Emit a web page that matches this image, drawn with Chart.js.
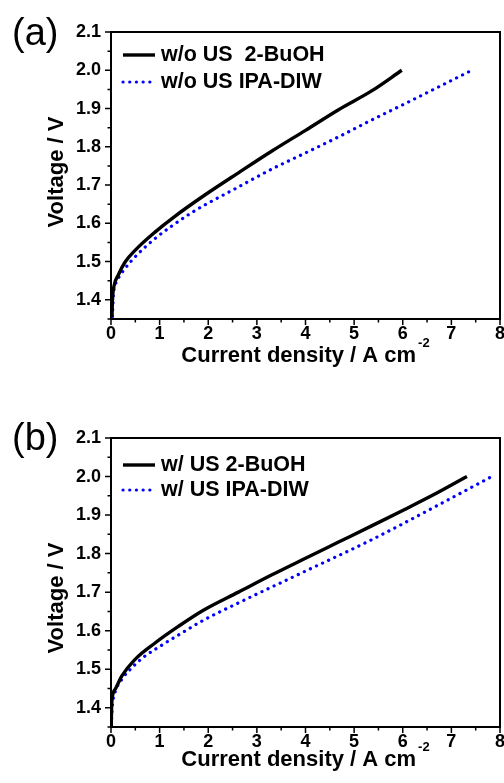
<!DOCTYPE html>
<html>
<head>
<meta charset="utf-8">
<script src="https://cdn.jsdelivr.net/npm/chart.js@4.4.1/dist/chart.umd.min.js"></script>
<style>
  html, body { margin: 0; padding: 0; background: #fff; }
  canvas { display: block; position: absolute; left: 0; }
  #chart-a { top: 0; }
  #chart-b { top: 392px; }
</style>
</head>
<body>
<canvas id="chart-a" width="504" height="392"></canvas>
<canvas id="chart-b" width="504" height="391"></canvas>
<script>
// tick values
const xTickValues = [0, 1, 2, 3, 4, 5, 6, 7, 8];
const xMinorTicks = [0.5, 1.5, 2.5, 3.5, 4.5, 5.5, 6.5, 7.5];
const yTickValues = [1.4, 1.5, 1.6, 1.7, 1.8, 1.9, 2.0, 2.1];
const yMinorTicks = [1.35, 1.45, 1.55, 1.65, 1.75, 1.85, 1.95, 2.05];

// (a) w/o US
const labelsA = ['w/o US  2-BuOH', 'w/o US IPA-DIW'];
const currentA_BuOH = [0.02, 0.03, 0.06, 0.15, 0.29, 0.5, 0.905, 1.3, 1.93, 2.62, 3.31, 4.0, 4.68, 5.36, 5.98];
const voltageA_BuOH = [1.355, 1.40, 1.435, 1.465, 1.499, 1.53, 1.577, 1.617, 1.674, 1.732, 1.789, 1.843, 1.897, 1.946, 2.0];
const currentA_IPA = [0.03, 0.05, 0.12, 0.29, 0.53, 0.905, 1.25, 1.66, 1.93, 2.62, 3.31, 4.0, 4.68, 5.36, 6.05, 6.73, 7.42];
const voltageA_IPA = [1.357, 1.413, 1.448, 1.482, 1.517, 1.56, 1.593, 1.628, 1.648, 1.695, 1.742, 1.784, 1.826, 1.870, 1.913, 1.956, 2.0];

// (b) w/ US
const labelsB = ['w/ US 2-BuOH', 'w/ US IPA-DIW'];
const currentB_BuOH = [0.005, 0.015, 0.08, 0.22, 0.49, 0.905, 1.385, 1.90, 2.62, 3.31, 4.0, 4.68, 5.36, 6.05, 6.7, 7.32];
const voltageB_BuOH = [1.352, 1.412, 1.447, 1.482, 1.525, 1.568, 1.611, 1.653, 1.70, 1.745, 1.788, 1.830, 1.872, 1.915, 1.957, 2.0];
const currentB_IPA = [0.005, 0.03, 0.08, 0.22, 0.43, 0.70, 1.04, 1.455, 1.90, 2.62, 3.99, 5.36, 6.73, 7.83];
const voltageB_IPA = [1.355, 1.407, 1.439, 1.473, 1.504, 1.534, 1.562, 1.594, 1.627, 1.672, 1.754, 1.836, 1.926, 2.0];

const FONT = '"Liberation Sans", Arial, sans-serif';
Chart.defaults.font.family = FONT;
Chart.defaults.color = '#000';

const toPoints = (xs, ys) => xs.map((x, i) => ({ x, y: ys[i] }));

// frame, ticks, titles, legend and panel letter
const framePlugin = {
  id: 'frame',
  afterDraw(chart, args, o) {
    const { ctx, chartArea: a, scales: { x, y } } = chart;
    ctx.save();
    ctx.strokeStyle = '#000';
    ctx.lineWidth = 2;
    ctx.strokeRect(a.left, a.top, a.right - a.left, a.bottom - a.top);

    ctx.lineWidth = 1.5;
    ctx.beginPath();
    const xt = (v, len) => { const p = x.getPixelForValue(v); ctx.moveTo(p, a.bottom); ctx.lineTo(p, a.bottom + len); };
    const yt = (v, len) => { const p = y.getPixelForValue(v); ctx.moveTo(a.left, p); ctx.lineTo(a.left - len, p); };
    xTickValues.forEach(v => xt(v, 6));
    xMinorTicks.forEach(v => xt(v, 3.5));
    yTickValues.forEach(v => yt(v, 6));
    yMinorTicks.forEach(v => yt(v, 3.5));
    ctx.stroke();

    ctx.fillStyle = '#000';
    ctx.textBaseline = 'alphabetic';

    // x title with superscript
    const main = 'Current density / A cm';
    const sup = '-2';
    ctx.font = 'bold 22px ' + FONT;
    const w1 = ctx.measureText(main).width;
    ctx.font = 'bold 13px ' + FONT;
    const w2 = ctx.measureText(sup).width;
    const sx = (a.left + a.right) / 2 - (w1 + 2 + w2) / 2;
    ctx.textAlign = 'left';
    ctx.font = 'bold 22px ' + FONT;
    ctx.fillText(main, sx, o.xTitleY);
    ctx.font = 'bold 13px ' + FONT;
    ctx.fillText(sup, sx + w1 + 2, o.xTitleY - 15);

    // y title
    ctx.save();
    ctx.translate(o.yTitleX, o.yTitleY);
    ctx.rotate(-Math.PI / 2);
    ctx.textAlign = 'center';
    ctx.font = 'bold 22px ' + FONT;
    ctx.fillText('Voltage / V', 0, 0);
    ctx.restore();

    // panel letter
    ctx.textAlign = 'left';
    ctx.font = '38px ' + FONT;
    ctx.fillText(o.panel, 12, o.panelY);

    // legend
    chart.data.datasets.forEach((ds, i) => {
      const ly = o.legendY[i];
      ctx.save();
      ctx.strokeStyle = ds.borderColor;
      ctx.lineWidth = ds.borderWidth;
      ctx.lineCap = ds.borderCapStyle || 'butt';
      ctx.setLineDash(ds.borderDash || []);
      ctx.beginPath();
      ctx.moveTo(123, ly);
      ctx.lineTo(155, ly);
      ctx.stroke();
      ctx.restore();
      ctx.font = 'bold 21.5px ' + FONT;
      ctx.textBaseline = 'middle';
      ctx.fillText(ds.label, 161, ly);
    });
    ctx.restore();
  }
};

function makeChart(id, labels, series, layout) {
  const canvas = document.getElementById(id);
  return new Chart(canvas, {
    type: 'line',
    data: {
      datasets: [
        {
          label: labels[0],
          data: series[0],
          borderColor: '#000000',
          borderWidth: 3.4,
          pointRadius: 0,
          cubicInterpolationMode: 'monotone'
        },
        {
          label: labels[1],
          data: series[1],
          borderColor: '#0000ff',
          borderWidth: 3.2,
          borderDash: [0.1, 6.6],
          borderCapStyle: 'round',
          pointRadius: 0,
          cubicInterpolationMode: 'monotone'
        }
      ]
    },
    options: {
      responsive: false,
      animation: false,
      devicePixelRatio: 1,
      layout: { padding: { top: layout.top, right: 4, left: 0, bottom: 0 } },
      plugins: {
        legend: { display: false },
        tooltip: { enabled: false },
        frame: layout
      },
      scales: {
        x: {
          type: 'linear',
          min: 0,
          max: 8,
          afterBuildTicks: s => { s.ticks = xTickValues.map(v => ({ value: v })); },
          afterFit: s => {
            s.height = canvas.height - layout.bottom;
            s.paddingLeft = 0;
            s.paddingRight = 0;
          },
          grid: { display: false, drawTicks: false },
          border: { display: false },
          ticks: {
            autoSkip: false,
            maxRotation: 0,
            padding: 4,
            font: { size: 18, weight: 'bold' },
            callback: v => String(Math.round(v))
          }
        },
        y: {
          type: 'linear',
          min: 1.35,
          max: 2.1,
          afterBuildTicks: s => { s.ticks = yTickValues.map(v => ({ value: v })); },
          afterFit: s => {
            s.width = 111;
            s.paddingTop = 0;
            s.paddingBottom = 0;
          },
          grid: { display: false, drawTicks: false },
          border: { display: false },
          ticks: {
            padding: 10,
            font: { size: 18, weight: 'bold' },
            callback: v => v.toFixed(1)
          }
        }
      }
    },
    plugins: [framePlugin]
  });
}

makeChart('chart-a', labelsA,
  [toPoints(currentA_BuOH, voltageA_BuOH), toPoints(currentA_IPA, voltageA_IPA)],
  { top: 32, bottom: 319, panel: '(a)', panelY: 45, legendY: [55, 82], xTitleY: 362, yTitleX: 63, yTitleY: 172 });

makeChart('chart-b', labelsB,
  [toPoints(currentB_BuOH, voltageB_BuOH), toPoints(currentB_IPA, voltageB_IPA)],
  { top: 46, bottom: 335, panel: '(b)', panelY: 58, legendY: [73, 98], xTitleY: 374, yTitleX: 63, yTitleY: 206 });
</script>
</body>
</html>
